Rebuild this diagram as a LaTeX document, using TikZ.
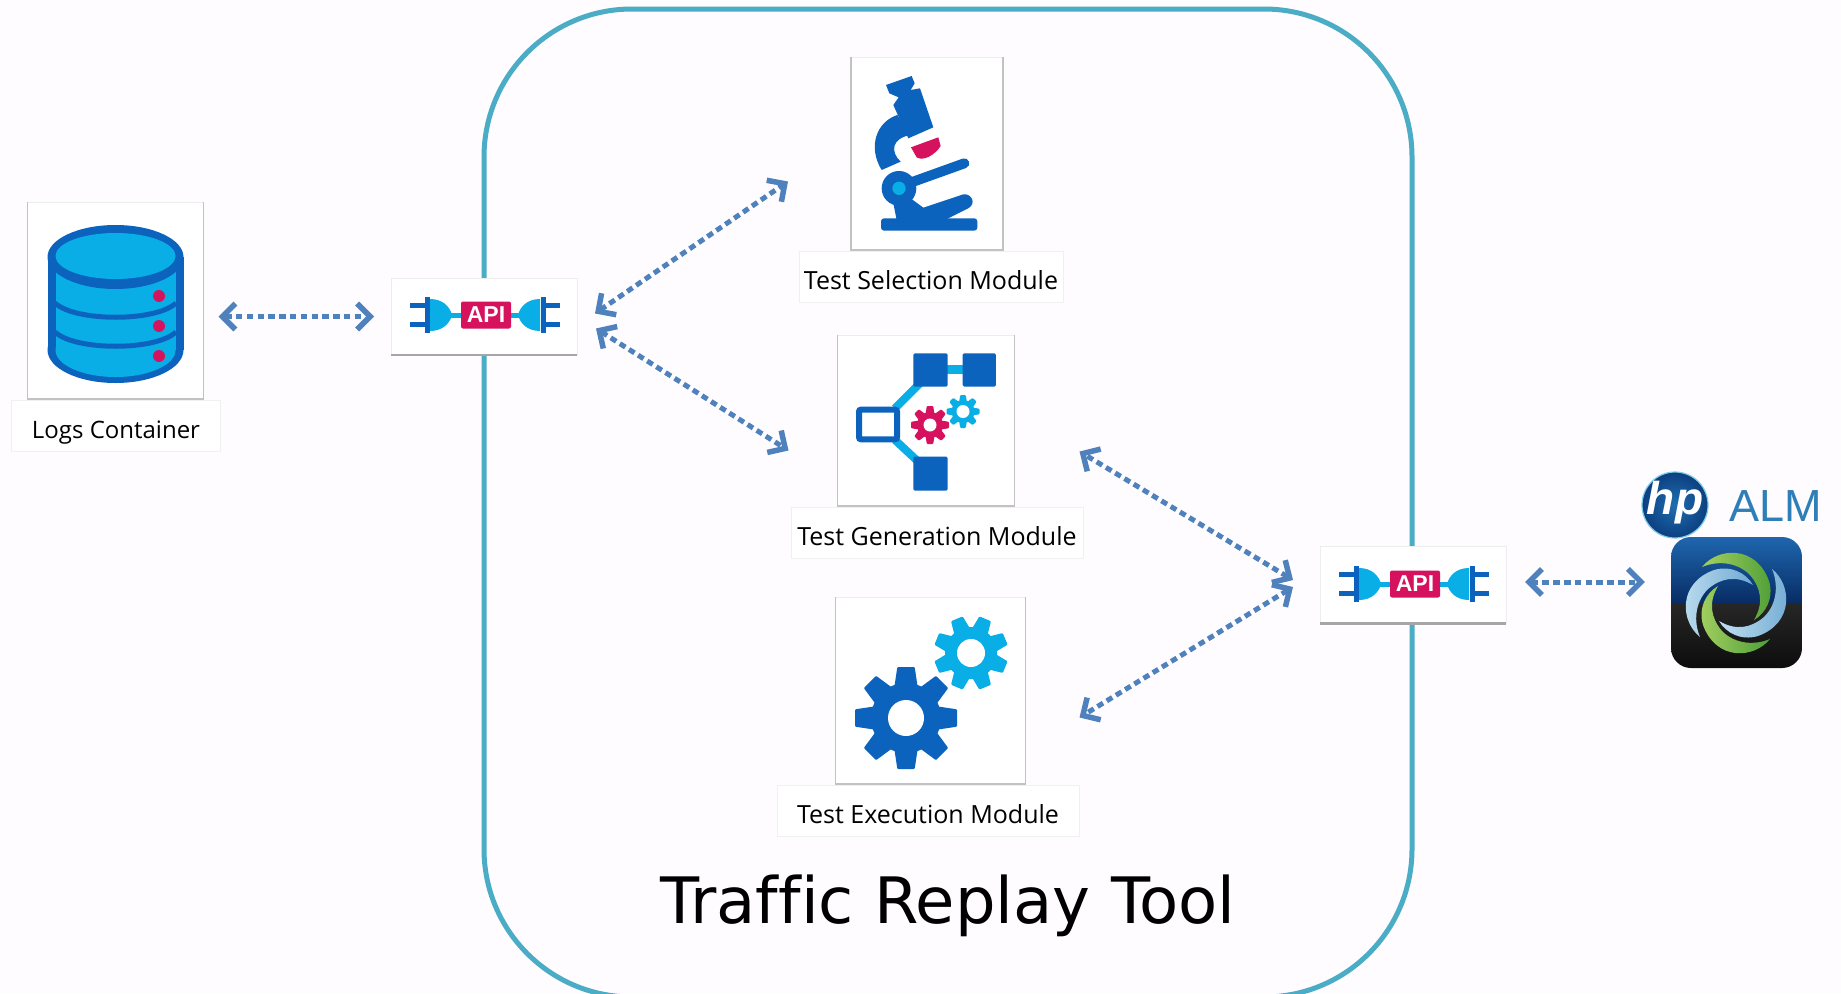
\documentclass[tikz,border=0pt]{standalone}
\usepackage{fontspec}
\setmainfont{Open Sans}
\newfontfamily\titlefont[Ligatures=NoCommon]{DejaVu Sans}
\newfontfamily\almfont{Liberation Sans}
\usetikzlibrary{positioning,arrows.meta,calc}
\definecolor{framecol}{HTML}{4BACC6}
\definecolor{linkcol}{HTML}{4F81BD}
\definecolor{darkcol}{HTML}{0B63BE}
\definecolor{lightcol}{HTML}{0AAEE6}
\definecolor{redcol}{HTML}{D6125F}
\definecolor{pagecol}{HTML}{FEFCFE}
\definecolor{almcol}{HTML}{2E7FB8}
\definecolor{hpinner}{HTML}{1F6FB0}
\definecolor{hpouter}{HTML}{0C3F80}
\definecolor{hprim}{HTML}{7CCBE8}
\definecolor{icontop}{HTML}{1F66AE}
\definecolor{iconmid}{HTML}{072B63}
\definecolor{greenA}{HTML}{4E9E38}
\definecolor{greenB}{HTML}{A4D060}
\definecolor{blueA}{HTML}{6FA9D2}
\definecolor{blueB}{HTML}{BFDFF0}
\newcommand{\gearicon}[7]{% x, y, outer, body, hole, turn, colour
  \foreach \ang in {0,45,...,315}
    \fill [#7, rounded corners=1pt, shift={(#1,#2)}, rotate=\ang+#6]
      (-0.32*#3,0) -- (-0.17*#3,#3) -- (0.17*#3,#3) -- (0.32*#3,0) -- cycle;
  \fill [#7] (#1,#2) circle (#4);
  \fill [white] (#1,#2) circle (#5);
}
\begin{document}
\begin{tikzpicture}[x=1pt,y=-1pt]
  \tikzset{iconbox/.style={draw=black!7, fill=white, line width=1pt, inner sep=0pt, outer sep=0pt}}
  \tikzset{namebox/.style={draw=black!6, fill=white, line width=0.8pt, inner sep=0pt, outer sep=0pt, minimum height=51pt,
      text height=28pt, text depth=2pt, font=\fontsize{25}{30}\selectfont}}
  \tikzset{apibox/.style={iconbox, minimum width=186pt, minimum height=77pt}}
  \tikzset{link/.style={draw=linkcol, line width=5pt, dash pattern=on 6.5pt off 4.3pt,
      {Straight Barb[length=13pt,width=26pt,line width=5.5pt]}-{Straight Barb[length=13pt,width=26pt,line width=5.5pt]}}}
  \tikzset{apiplug/.pic={
      \foreach \flip in {1,-1}{
        \begin{scope}[xscale=\flip]
          \draw [darkcol, line width=5pt] (-58,-18) -- (-58,18);
          \draw [darkcol, line width=5pt] (-75,-9.5) -- (-58,-9.5);
          \draw [darkcol, line width=5pt] (-75,9.5) -- (-58,9.5);
          \fill [lightcol] (-55,-16) .. controls (-42,-16) and (-35,-8) .. (-33,0)
            .. controls (-35,8) and (-42,16) .. (-55,16) -- cycle;
          \draw [lightcol, line width=5pt] (-36,0) -- (-22,0);
        \end{scope}
      }
      \fill [redcol, rounded corners=2pt] (-24,-13.5) rectangle (26,13.5);
      \node [text=white, font=\almfont\bfseries\fontsize{23}{23}\selectfont, inner sep=0pt] (word) at (1,0) {API};
  }}

  \clip (0,0) rectangle (1841,993);
  \fill [pagecol] (0,0) rectangle (1841,993);

  \node [draw=framecol, line width=5pt, rounded corners=148pt, minimum width=928pt, minimum height=988pt,
    inner sep=0pt] (frame) at (948,503) {};
  \node [font=\titlefont\fontsize{64}{70}\selectfont, inner sep=0pt] (title) at (948,906) {Traffic Replay Tool};

  % icon boxes and their names
  \node [iconbox, minimum width=176pt, minimum height=197pt] (logsbox) at (115.5,300.5) {};
  \node [namebox, minimum width=209pt, below=1pt of logsbox, xshift=0.5pt, font=\fontsize{24}{30}\selectfont] (logsname) {Logs Container};
  \node [iconbox, minimum width=152pt, minimum height=193pt] (selbox) at (927,153.5) {};
  \node [namebox, minimum width=264pt, below=1pt of selbox, xshift=4pt] (selname) {Test Selection Module};
  \node [iconbox, minimum width=177pt, minimum height=171pt] (genbox) at (926,420.5) {};
  \node [namebox, minimum width=292pt, below=1pt of genbox, xshift=11pt] (genname) {Test Generation Module};
  \node [iconbox, minimum width=190pt, minimum height=187pt] (exebox) at (930.5,690.5) {};
  \node [namebox, minimum width=302pt, below=1pt of exebox, xshift=-2.5pt] (exename) {Test Execution Module};
  \foreach \boxname in {logsbox,selbox,genbox,exebox}
    \draw [black!24, line width=1.5pt] (\boxname.north west) -- (\boxname.south west) -- (\boxname.south east) -- (\boxname.north east);

  \node [apibox] (apileft) at (484,316.5) {};
  \node [apibox] (apiright) at (1413,585) {};
  \draw [black!35, line width=2.5pt] (apileft.south west) -- (apileft.south east);
  \draw [black!35, line width=2.5pt] (apiright.south west) -- (apiright.south east);
  \pic (apileftplug) at (485,315) {apiplug};
  \pic (apirightplug) at (1414,584) {apiplug};

  % database
  \fill [darkcol] (115.5,350) circle [x radius=68, y radius=33];
  \fill [darkcol] (47.5,257) rectangle (183.5,350);
  \fill [lightcol] (115.5,350) circle [x radius=60, y radius=27];
  \fill [lightcol] (55.5,257) rectangle (175.5,350);
  \fill [darkcol] (115.5,257) circle [x radius=68, y radius=32];
  \fill [lightcol] (115.5,256) circle [x radius=60, y radius=23];
  \draw [darkcol, line width=5pt] (55,303) .. controls (75,322) and (156,322) .. (176,303);
  \draw [darkcol, line width=5pt] (55,332) .. controls (75,351) and (156,351) .. (176,332);
  \foreach \yy in {296,326,356}
    \fill [redcol] (159,\yy) circle (6);

  % microscope
  \begin{scope}[shift={(780,40)}, scale=0.3333]
    \fill [darkcol] (318,135) -- (395,108) -- (404,130) -- (392,150) -- (420,145) -- (460,262)
      -- (385,295) -- (340,195) -- (356,172) -- (328,160) -- cycle;
    \fill [darkcol] (352,225) .. controls (290,245) and (262,320) .. (305,390) -- (362,365)
      .. controls (330,335) and (335,295) .. (392,285) -- cycle;
    \fill [darkcol] (357,445) circle (52);
    \fill [lightcol] (357,445) circle (20);
    \draw [darkcol, line width=10pt, line cap=round] (400,425) -- (553,370);
    \fill [darkcol] (385,470) -- (430,503) -- (550,463) .. controls (575,460) and (590,490) .. (565,505)
      -- (495,540) -- (350,540) -- (340,490) -- cycle;
    \fill [darkcol, rounded corners=3pt] (303,572) -- (303,535) -- (592,535) -- (592,572) -- cycle;
    \fill [redcol] (393,322) -- (475,292) -- (482,318) .. controls (465,345) and (430,365) .. (410,352) -- cycle;
  \end{scope}

  % generation icon
  \begin{scope}[shift={(780,40)}, scale=0.3333]
    \draw [lightcol, line width=9pt] (500,990) -- (550,990);
    \draw [lightcol, line width=8pt] (345,1105) -- (420,1030);
    \draw [lightcol, line width=8pt] (345,1200) -- (420,1270);
    \fill [darkcol, rounded corners=1.5pt] (400,940) rectangle (503,1040);
    \fill [darkcol, rounded corners=1.5pt] (548,940) rectangle (648,1040);
    \fill [darkcol, rounded corners=1.5pt] (400,1250) rectangle (503,1352);
    \draw [darkcol, fill=white, line width=6pt, rounded corners=2pt] (237,1109) rectangle (351,1198);
  \end{scope}
  \gearicon{930}{425}{19}{13}{6.5}{0}{redcol}
  \gearicon{963}{411.5}{16.5}{11.5}{6.5}{0}{lightcol}

  % execution icon
  \gearicon{906}{718}{51}{35}{18}{0}{darkcol}
  \gearicon{971}{653}{37}{26}{14}{22.5}{lightcol}

  % alm logo
  \shade [inner color=hpinner, outer color=hpouter] (1675,505) circle (33);
  \draw [hprim, line width=1.2pt] (1675,505) circle (33);
  \node [text=white, font=\almfont\bfseries\itshape\fontsize{46}{46}\selectfont, inner sep=0pt] (hpword) at (1675,503) {hp};
  \node [text=almcol, font=\almfont\fontsize{45}{45}\selectfont, inner sep=0pt] (almword) at (1776,506) {ALM};
  \begin{scope}
    \clip [rounded corners=20pt] (1671,537) rectangle (1802,668);
    \shade [top color=icontop, bottom color=iconmid] (1671,537) rectangle (1802,604);
    \shade [top color=black!85, bottom color=black!95] (1671,604) rectangle (1802,668);
    \foreach \ang/\colA/\colB in {0/greenA/greenB,90/blueA/blueB,180/greenA/greenB,270/blueA/blueB}
      \shade [left color=\colB, right color=\colA, shift={(1736,603)}, rotate=\ang]
        (-34,-36) .. controls (-18,-56) and (20,-58) .. (33,-22)
        .. controls (38,-5) and (30,10) .. (18,17)
        .. controls (28,0) and (25,-15) .. (14,-28)
        .. controls (0,-42) and (-20,-42) .. (-34,-36) -- cycle;
  \end{scope}
  \node [inner sep=0pt, minimum size=131pt] (almicon) at (1736.5,602.5) {};

  % connectors
  \path [link] ([shift={(15,16)}]logsbox.east) -- ([shift={(-17,0)}]apileft.west);
  \path [link] ([shift={(18,-3)}]apileft.east) -- ([shift={(-63,28)}]selbox.west);
  \path [link] ([shift={(19,12)}]apileft.east) -- ([shift={(-49,30)}]genbox.west);
  \path [link] ([shift={(-27,-5)}]apiright.west) -- ([shift={(65,31)}]genbox.east);
  \path [link] ([shift={(-27,2)}]apiright.west) -- ([shift={(54,27)}]exebox.east);
  \path [link] ([shift={(19,-3)}]apiright.east) -- ([shift={(-26,-20.5)}]almicon.west);
\end{tikzpicture}
\end{document}
